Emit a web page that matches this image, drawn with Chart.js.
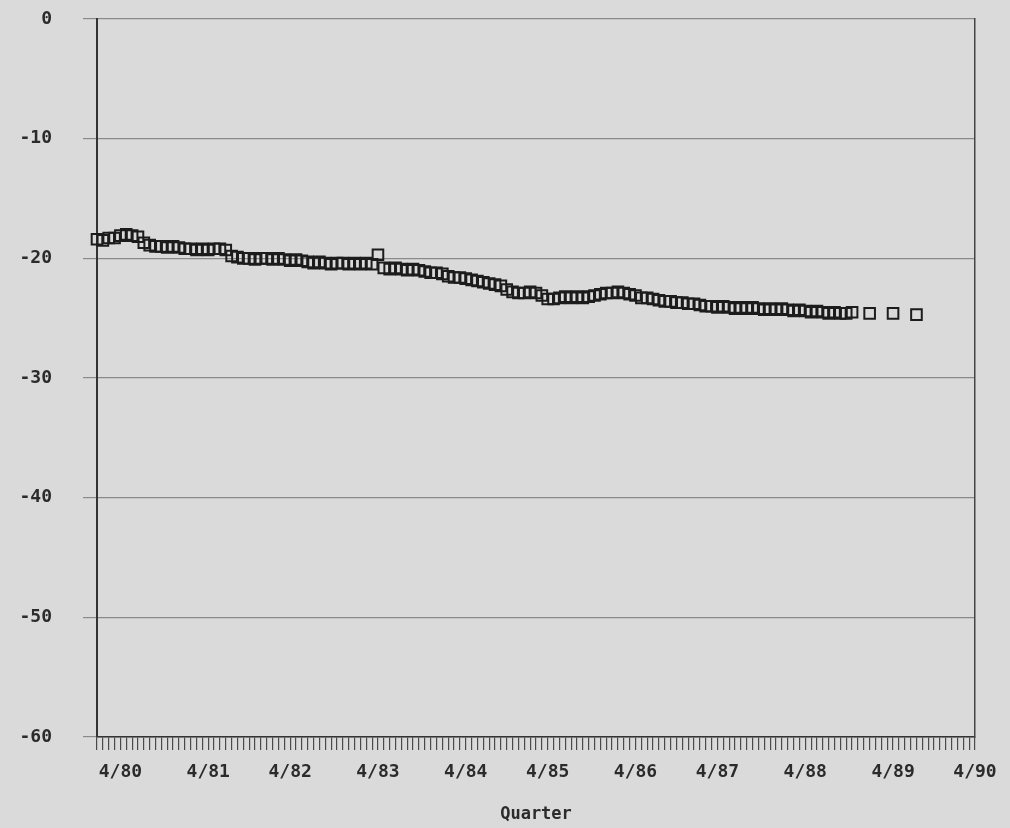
<!DOCTYPE html>
<html>
<head>
<meta charset="utf-8">
<script src="https://cdn.jsdelivr.net/npm/chart.js@4/dist/chart.umd.min.js"></script>
<style>
  html, body { margin: 0; padding: 0; background: #dadada; }
  #wrap { width: 1010px; height: 828px; position: relative; }
</style>
</head>
<body>
<div id="wrap"><canvas id="Chart1"></canvas></div>
<script>
// tick labels on the x axis, and the category slot where each one sits
const yearLabels = ['4/80', '4/81', '4/82', '4/83', '4/84', '4/85', '4/86', '4/87', '4/88', '4/89', '4/90'];
const labelIndex = [4, 19, 33, 48, 63, 77, 92, 106, 121, 136, 150];
const categoryCount = 151;

// depth readings (feet), one per category
const depth = [
  -18.4, -18.5, -18.3, -18.3, -18.1, -18.0, -18.1, -18.2, -18.7,
  -18.9, -19.0, -19.0, -19.1, -19.0, -19.1,
  -19.2, -19.2, -19.3, -19.2, -19.3, -19.2, -19.2, -19.3,
  -19.8, -19.9,
  -20.0, -20.0, -20.1, -20.0, -20.0, -20.1, -20.0, -20.1, -20.2, -20.1, -20.2, -20.3,
  -20.4, -20.3, -20.4, -20.5, -20.4, -20.4, -20.5, -20.4, -20.5, -20.4, -20.5,
  -19.7,
  -20.8, -20.9, -20.8, -20.9, -21.0, -20.9, -21.0, -21.1,
  -21.2, -21.2, -21.3,
  -21.5, -21.6, -21.6, -21.7, -21.8, -21.9,
  -22.0, -22.1, -22.2,
  -22.3, -22.6,
  -22.8, -22.9, -22.9, -22.8, -22.9, -23.1,
  -23.4, -23.4,
  -23.3, -23.2, -23.3, -23.2, -23.3, -23.2, -23.1,
  -23.0, -22.9, -22.9,
  -22.8, -22.9, -23.0, -23.1,
  -23.3, -23.3, -23.4,
  -23.5, -23.6, -23.6, -23.7, -23.7, -23.8, -23.8, -23.9,
  -24.0, -24.0, -24.1, -24.0, -24.1, -24.2, -24.1, -24.2, -24.1, -24.2,
  -24.3, -24.2, -24.3, -24.2, -24.3, -24.4, -24.3, -24.4, -24.5, -24.4,
  -24.5, -24.6, -24.5, -24.6, -24.6, -24.5,
  null, null, -24.6, null, null, null, -24.6, null, null, null, -24.7
];

const yTicks = [0, -10, -20, -30, -40, -50, -60];

// category labels: mostly blank, a year label every ~14.6 slots
const quarters = [];
for (let i = 0; i < categoryCount; i++) quarters.push('');
labelIndex.forEach((idx, k) => { quarters[idx] = yearLabels[k]; });

const ink = '#2b2b2b';
const mono = 'DejaVu Sans Mono';
const setYTicks = axis => { axis.ticks = yTicks.map(v => ({ value: v })); };

new Chart(document.getElementById('Chart1'), {
  type: 'line',
  data: {
    labels: quarters,
    datasets: [{
      data: depth,
      yAxisID: 'y',
      showLine: false,
      pointStyle: 'rect',
      pointRadius: 7.5,
      pointHoverRadius: 7.5,
      pointBorderWidth: 2,
      pointBorderColor: '#1c1c1c',
      pointBackgroundColor: 'rgba(0,0,0,0)'
    }]
  },
  options: {
    animation: false,
    responsive: true,
    maintainAspectRatio: false,
    layout: { autoPadding: false, padding: { top: 19, right: 35, left: 0, bottom: 0 } },
    plugins: { legend: { display: false }, tooltip: { enabled: false } },
    scales: {
      x: {
        type: 'category',
        offset: false,
        grid: { drawOnChartArea: false, tickLength: 13, color: '#4a4a4a', lineWidth: 1.2, offset: false },
        border: { color: '#333', width: 1.5 },
        ticks: {
          autoSkip: false, maxRotation: 0, minRotation: 0, padding: 12,
          color: ink, font: { family: mono, size: 18, weight: 'bold' }
        },
        title: {
          display: true, text: 'Quarter', color: ink,
          font: { family: mono, size: 17, weight: 'bold' },
          padding: { top: 9, bottom: 3 }
        }
      },
      // grid lines, left stubs and the left frame line
      y: {
        position: 'left',
        weight: 0,
        min: -60, max: 0,
        afterBuildTicks: setYTicks,
        afterFit: axis => { axis.width = 0; },
        grid: { color: '#8a8a8a', lineWidth: 1.2, tickLength: 14 },
        border: { color: '#333', width: 2 },
        ticks: { display: false }
      },
      // the numbers only, set well to the left of the frame
      yLab: {
        position: 'left',
        weight: 1,
        min: -60, max: 0,
        afterBuildTicks: setYTicks,
        afterFit: axis => { axis.width = 97; },
        grid: { drawOnChartArea: false, tickLength: 45, tickColor: 'rgba(0,0,0,0)' },
        border: { display: false },
        ticks: { padding: 0, color: ink, font: { family: mono, size: 18, weight: 'bold' } }
      },
      y2: {
        position: 'right',
        display: true,
        afterFit: axis => { axis.width = 0; },
        grid: { drawOnChartArea: false, drawTicks: false },
        border: { color: '#444', width: 1.5 },
        ticks: { display: false }
      }
    }
  }
});
</script>
</body>
</html>
